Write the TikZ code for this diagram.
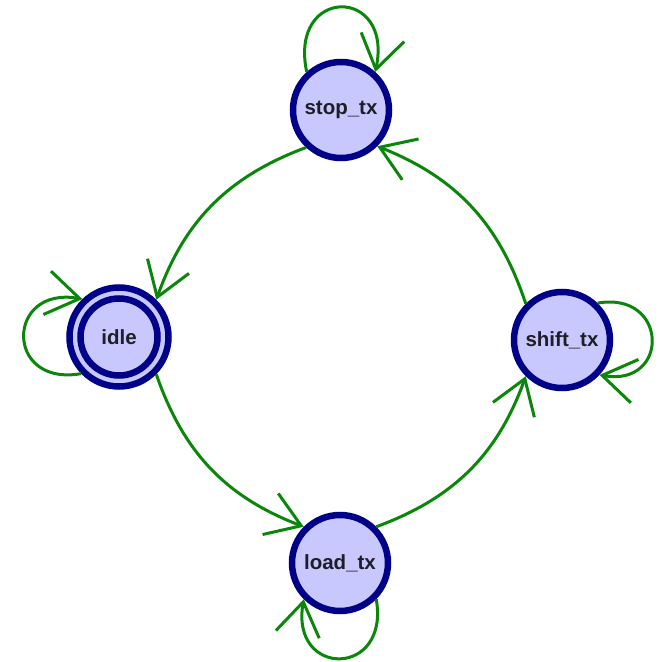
\documentclass[tikz,border=0pt]{standalone}
\usepackage{fontspec}
\setmainfont{Liberation Sans}
\usetikzlibrary{arrows.meta}
\definecolor{stfill}{RGB}{200,200,255}
\definecolor{stline}{RGB}{0,0,136}
\definecolor{edgegreen}{RGB}{10,135,10}
\definecolor{txt}{RGB}{30,30,40}
\begin{document}
\begin{tikzpicture}[x=1pt,y=1pt,
  state/.style={circle, draw=stline, line width=6.5pt, fill=stfill, minimum size=96pt, inner sep=0pt,
    font=\fontsize{20.5}{24}\selectfont\bfseries, text=txt},
  ring/.style={draw=stline, line width=6.5pt},
  trans/.style={draw=edgegreen, line width=3pt, -{Straight Barb[length=33pt,width=44pt]}}]
\useasboundingbox (0,0) rectangle (657,662);
\node[state] (stop) at (341,552) {stop\_tx};
\node[state, minimum size=99pt] (idle) at (119,325) {idle};
\draw[ring] (idle.center) circle (38.5);
\node[state] (shift) at (562,322) {shift\_tx};
\node[state] (load) at (340,99) {load\_tx};
% transitions
\draw[trans] (stop.227) to[bend right=25] (idle.45);
\draw[trans] (idle.315) to[bend right=25] (load.135);
\draw[trans] (load.45) to[bend right=25] (shift.225);
\draw[trans] (shift.135) to[bend right=25] (stop.315);
% self loops
\draw[trans] (stop.132) .. controls +(102:88) and +(78:88) .. (stop.48);
\draw[trans] (idle.224) .. controls +(190:78) and +(170:78) .. (idle.134);
\draw[trans] (shift.46) .. controls +(10:72) and +(-10:72) .. (shift.317);
\draw[trans] (load.315) .. controls +(280:80) and +(260:80) .. (load.225);
\end{tikzpicture}
\end{document}
